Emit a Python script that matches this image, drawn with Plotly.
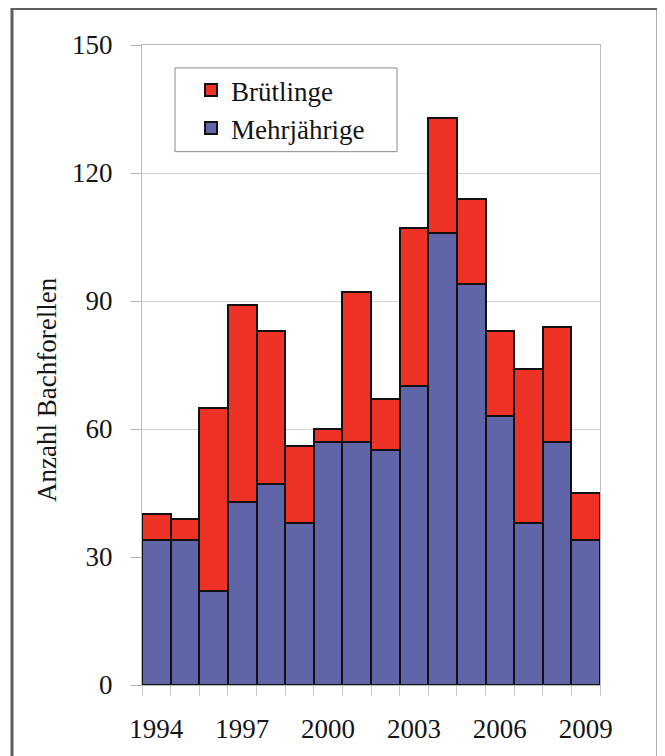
import plotly.graph_objects as go

years = list(range(1994, 2010))
mehrjaehrige = [34, 34, 22, 43, 47, 38, 57, 57, 55, 70, 106, 94, 63, 38, 57, 34]
totals = [40, 39, 65, 89, 83, 56, 60, 92, 67, 107, 133, 114, 83, 74, 84, 45]
bruetlinge = [t - m for t, m in zip(totals, mehrjaehrige)]
xtick_years = [1994, 1997, 2000, 2003, 2006, 2009]
ytick_vals = [0, 30, 60, 90, 120, 150]

FONT = "Liberation Serif"
FS = 27
TXT = "#151515"
OFF = 8  # default page body margin
W, H = 665 - OFF, 756 - OFF
L, R, T, B = 142 - OFF, 65, 45 - OFF, 69
pw = W - L - R
ph = H - T - B

def px_x(px):
    return (px - OFF - L) / pw

def px_y(py):
    return (H - B - (py - OFF)) / ph

fig = go.Figure()
fig.add_trace(go.Bar(
    x=years, y=mehrjaehrige, name="Mehrjährige",
    marker=dict(color="#5f65a6", line=dict(color="#111111", width=2)),
    width=1,
))
fig.add_trace(go.Bar(
    x=years, y=bruetlinge, name="Brütlinge",
    marker=dict(color="#ee3226", line=dict(color="#111111", width=2)),
    width=1,
))

fig.update_layout(
    width=W, height=H,
    barmode="stack", bargap=0,
    margin=dict(l=L, r=R, t=T, b=B, pad=0),
    paper_bgcolor="white", plot_bgcolor="white",
    font=dict(family=FONT, size=FS, color=TXT),
    showlegend=True,
    legend=dict(
        x=px_x(191), y=px_y(66), xanchor="left", yanchor="top",
        traceorder="reversed",
        borderwidth=0,
        bgcolor="rgba(0,0,0,0)",
        font=dict(family=FONT, size=FS, color=TXT),
        itemwidth=30,
        tracegroupgap=0,
    ),
    xaxis=dict(
        range=[1993.5, 2009.5],
        tickmode="array", tickvals=xtick_years,
        ticktext=[str(v) for v in xtick_years],
        ticks="outside", ticklen=20, tickcolor="rgba(0,0,0,0)",
        showgrid=False,
        showline=True, linecolor="#bdbdbd", linewidth=1, mirror=True,
        minor=dict(tickvals=[y - 0.5 for y in years] + [2009.5],
                   ticks="outside", ticklen=10, tickcolor="#c8c8c8", tickwidth=1),
        tickfont=dict(family=FONT, size=FS, color=TXT),
        zeroline=False,
    ),
    yaxis=dict(
        range=[0, 150],
        tickmode="array", tickvals=ytick_vals,
        ticks="outside", ticklen=10, tickcolor="#b0b0b0",
        ticklabelstandoff=13,
        showgrid=True, gridcolor="#d4d4d4", gridwidth=1,
        showline=True, linecolor="#bdbdbd", linewidth=1, mirror=True,
        zeroline=False,
        tickfont=dict(family=FONT, size=FS, color=TXT),
    ),
    annotations=[dict(
        text="Anzahl Bachforellen", textangle=-90,
        xref="paper", yref="paper", x=px_x(47), y=px_y(391),
        xanchor="center", yanchor="middle", showarrow=False,
        font=dict(family=FONT, size=FS, color=TXT),
    )],
    shapes=[
        dict(
            type="rect", xref="paper", yref="paper",
            x0=px_x(175), x1=px_x(397), y0=px_y(152), y1=px_y(68),
            line=dict(color="#8a8a8a", width=1), fillcolor="white",
            layer="below",
        ),
        dict(
            type="rect", xref="paper", yref="paper",
            x0=px_x(12), x1=px_x(658), y0=px_y(800), y1=px_y(8.5),
            line=dict(color="#5b5f5b", width=3), fillcolor="rgba(0,0,0,0)",
            layer="above",
        ),
    ],
)

fig.write_html("out.html")
